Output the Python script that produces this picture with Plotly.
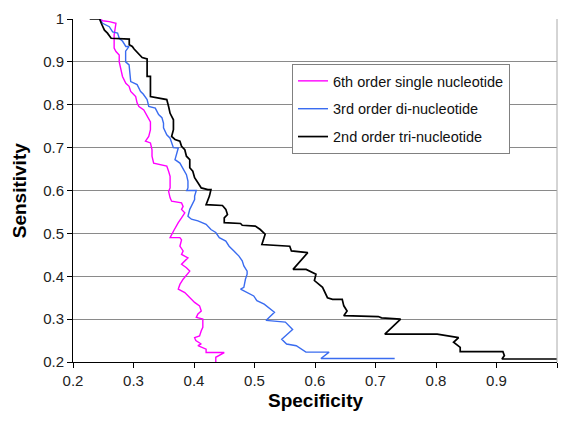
import plotly.graph_objects as go

# ---- data ----
tri_x = [0.2276, 0.244, 0.2467, 0.252, 0.257, 0.263, 0.293, 0.293, 0.298, 0.301, 0.3143, 0.3225,
         0.3225, 0.328, 0.328, 0.339, 0.355, 0.358, 0.3605, 0.366, 0.366, 0.363, 0.3686, 0.3767,
         0.3794, 0.3848, 0.3875, 0.393, 0.393, 0.398, 0.401, 0.4065, 0.412, 0.4228, 0.428,
         0.4255, 0.4228, 0.420, 0.447, 0.4526, 0.4553, 0.450, 0.450, 0.477, 0.4797, 0.5013,
         0.5095, 0.5176, 0.5122, 0.5583, 0.561, 0.588, 0.5637, 0.5854, 0.6016, 0.599, 0.6125,
         0.6206, 0.629, 0.645, 0.6476, 0.653, 0.6476, 0.7046, 0.710, 0.7415, 0.7154, 0.802,
         0.8374, 0.829, 0.840, 0.840, 0.9106, 0.913, 0.909, 1.0]
tri_y = [1.0, 1.0, 0.990, 0.974, 0.967, 0.955, 0.953, 0.940, 0.936, 0.930, 0.910, 0.907,
         0.866, 0.866, 0.819, 0.816, 0.812, 0.796, 0.780, 0.765, 0.742, 0.726, 0.719, 0.715,
         0.703, 0.695, 0.680, 0.672, 0.653, 0.645, 0.630, 0.618, 0.606, 0.602, 0.602,
         0.587, 0.579, 0.567, 0.565, 0.556, 0.544, 0.536, 0.525, 0.523, 0.519, 0.517,
         0.509, 0.498, 0.474, 0.470, 0.459, 0.455, 0.416, 0.416, 0.405, 0.390, 0.374,
         0.350, 0.346, 0.346, 0.331, 0.319, 0.308, 0.306, 0.303, 0.300, 0.265, 0.265,
         0.257, 0.246, 0.234, 0.224, 0.224, 0.215, 0.207, 0.207]

di_x = [0.244, 0.249, 0.260, 0.2655, 0.2737, 0.2764, 0.282, 0.2873, 0.2927, 0.287, 0.287, 0.2927,
        0.2954, 0.306, 0.3117, 0.316, 0.3225, 0.3252, 0.336, 0.3415, 0.347, 0.3496, 0.3496,
        0.355, 0.3605, 0.363, 0.3659, 0.374, 0.3713, 0.3686, 0.3767, 0.382, 0.3875, 0.390,
        0.390, 0.388, 0.4038, 0.401, 0.401, 0.393, 0.390, 0.3957, 0.4065, 0.420, 0.428,
        0.436, 0.4418, 0.4526, 0.458, 0.466, 0.4743, 0.4797, 0.4824, 0.4878, 0.4878, 0.485,
        0.4824, 0.477, 0.4932, 0.4987, 0.504, 0.516, 0.533, 0.519, 0.551, 0.556, 0.563,
        0.545, 0.553, 0.569, 0.585, 0.6233, 0.6098, 0.7317]
di_y = [1.0, 0.990, 0.982, 0.970, 0.967, 0.955, 0.948, 0.936, 0.936, 0.925, 0.900, 0.893,
        0.854, 0.847, 0.831, 0.825, 0.812, 0.796, 0.792, 0.777, 0.770, 0.757, 0.746,
        0.730, 0.722, 0.711, 0.700, 0.699, 0.685, 0.672, 0.664, 0.649, 0.637, 0.622,
        0.606, 0.600, 0.600, 0.587, 0.579, 0.556, 0.540, 0.533, 0.529, 0.521, 0.509,
        0.502, 0.490, 0.482, 0.470, 0.459, 0.447, 0.436, 0.424, 0.412, 0.405, 0.393,
        0.374, 0.370, 0.358, 0.354, 0.343, 0.335, 0.316, 0.297, 0.293, 0.285, 0.276,
        0.253, 0.242, 0.238, 0.223, 0.223, 0.208, 0.208]

single_x = [0.244, 0.249, 0.260, 0.271, 0.268, 0.268, 0.271, 0.2764, 0.2764, 0.279, 0.2818,
            0.2873, 0.2927, 0.2954, 0.3036, 0.306, 0.309, 0.317, 0.3225, 0.328, 0.328, 0.3252,
            0.3198, 0.328, 0.3306, 0.3306, 0.3333, 0.3468, 0.355, 0.358, 0.3605, 0.3605, 0.358,
            0.3605, 0.363, 0.3794, 0.382, 0.3794, 0.3848, 0.3794, 0.374, 0.366, 0.3605, 0.3767,
            0.3794, 0.3767, 0.382, 0.3794, 0.390, 0.3794, 0.3875, 0.393, 0.382, 0.3767, 0.374,
            0.3848, 0.390, 0.3957, 0.401, 0.4092, 0.412, 0.4065, 0.4038, 0.4146, 0.4146, 0.412,
            0.4092, 0.401, 0.403, 0.412, 0.4065, 0.420, 0.420, 0.450, 0.436, 0.436]
single_y = [1.0, 0.996, 0.994, 0.990, 0.963, 0.932, 0.924, 0.916, 0.900, 0.885, 0.866,
            0.850, 0.843, 0.831, 0.819, 0.804, 0.796, 0.788, 0.773, 0.760, 0.742, 0.726,
            0.715, 0.711, 0.695, 0.680, 0.664, 0.660, 0.657, 0.645, 0.633, 0.606, 0.598,
            0.583, 0.575, 0.571, 0.563, 0.556, 0.548, 0.536, 0.525, 0.505, 0.490, 0.490,
            0.485, 0.470, 0.459, 0.451, 0.443, 0.428, 0.420, 0.412, 0.393, 0.381, 0.370,
            0.362, 0.354, 0.347, 0.339, 0.331, 0.319, 0.312, 0.304, 0.300, 0.281, 0.273,
            0.261, 0.257, 0.250, 0.242, 0.238, 0.230, 0.222, 0.222, 0.211, 0.200]

tick_vals = [0.2, 0.3, 0.4, 0.5, 0.6, 0.7, 0.8, 0.9, 1.0]
tick_text = ["0.2", "0.3", "0.4", "0.5", "0.6", "0.7", "0.8", "0.9", "1"]

names = ["6th order single nucleotide", "3rd order di-nucleotide", "2nd order tri-nucleotide"]
colors = ["#ff00ff", "#3a6cf0", "#000000"]

fig = go.Figure()
series = [(single_x, single_y), (di_x, di_y), (tri_x, tri_y)]
for i, ((xs, ys), nm, c) in enumerate(zip(series, names, colors)):
    fig.add_trace(go.Scatter(x=xs, y=ys, mode="lines", name=nm, legendgroup=str(i),
                             line=dict(color=c, width=1.7 if i == 2 else 1.4)))

font_family = "Liberation Sans, Arial, sans-serif"
axis_common = dict(range=[0.2, 1.0], tickvals=tick_vals, ticktext=tick_text,
                   ticks="outside", ticklen=5, tickcolor="#000", showline=True,
                   linecolor="#000", linewidth=1, zeroline=False,
                   tickfont=dict(family=font_family, size=15, color="#222"))
fig.update_xaxes(**axis_common, showgrid=False)
fig.update_yaxes(**axis_common, showgrid=True, gridcolor="#8a8a8a", gridwidth=1)

# right plot border
fig.add_shape(type="line", xref="paper", yref="paper", x0=1, x1=1, y0=0, y1=1,
              line=dict(color="#aaaaaa", width=1))

fig.add_annotation(text="<b>Specificity</b>", xref="paper", yref="paper", x=0.5, y=-0.148,
                   showarrow=False, yanchor="bottom",
                   font=dict(family=font_family, size=19, color="#000"))
fig.add_annotation(text="<b>Sensitivity</b>", xref="paper", yref="paper", x=-0.11, y=0.5,
                   showarrow=False, textangle=-90, xanchor="center",
                   font=dict(family=font_family, size=19, color="#000"))

# the page body has an 8px margin; keep the figure inside the window so no scrollbars appear
fig.update_layout(
    width=550, height=406,
    margin=dict(l=65, r=1, t=11, b=52),
    plot_bgcolor="white", paper_bgcolor="white",
    showlegend=True,
    legend=dict(x=0.4525, y=0.869, xanchor="left", yanchor="top",
                bgcolor="white", bordercolor="#808080", borderwidth=1,
                font=dict(family=font_family, size=14.5, color="#111"),
                tracegroupgap=6, itemwidth=30),
)

fig.write_html("out.html")
